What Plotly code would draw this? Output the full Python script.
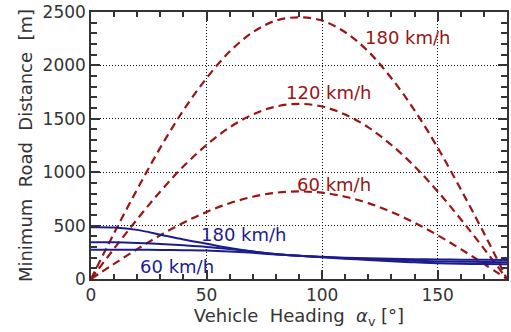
import plotly.graph_objects as go

# Vehicle heading samples (degrees)
heading = [0, 10, 20, 30, 40, 50, 60, 70, 80, 90,
           100, 110, 120, 130, 140, 150, 160, 170, 180]

# Dashed (red) family: distance vs heading for three speeds
red_180 = [0, 430, 840, 1230, 1580, 1880, 2130, 2310, 2420, 2450,
           2420, 2310, 2130, 1880, 1580, 1230, 840, 430, 0]
red_120 = [0, 285, 560, 820, 1055, 1255, 1420, 1540, 1615, 1640,
           1615, 1540, 1420, 1255, 1055, 820, 560, 285, 0]
red_60 = [0, 142, 280, 410, 527, 628, 710, 770, 808, 820,
          808, 770, 710, 628, 527, 410, 280, 142, 0]

# Solid (blue) family
blue_180 = [485, 482, 460, 415, 370, 330, 290, 258, 232, 218,
            208, 200, 195, 190, 186, 183, 181, 180, 178]
blue_120 = [345, 344, 338, 328, 315, 300, 280, 258, 235, 218,
            206, 195, 185, 177, 170, 165, 162, 160, 158]
blue_60 = [275, 275, 274, 272, 270, 267, 258, 245, 230, 217,
           203, 190, 178, 166, 156, 148, 143, 140, 138]

RED = "#9a1414"
BLUE = "#1c1c8e"
FONT = "DejaVu Sans"
TXT = "#333333"
AX = "#333333"

X_RANGE = [0, 180]
Y_RANGE = [0, 2500]

fig = go.Figure()

for ys in (red_180, red_120, red_60):
    fig.add_trace(go.Scatter(
        x=heading, y=ys, mode="lines", line_shape="spline",
        line=dict(color=RED, width=2.2, dash="8px,5px"),
        showlegend=False, hoverinfo="skip"))

for ys in (blue_180, blue_120, blue_60):
    fig.add_trace(go.Scatter(
        x=heading, y=ys, mode="lines", line_shape="spline",
        line=dict(color=BLUE, width=2),
        showlegend=False, hoverinfo="skip"))

# empty trace that carries the overlay axes used for the minor ticks
fig.add_trace(go.Scatter(x=[], y=[], xaxis="x2", yaxis="y2",
                         showlegend=False, hoverinfo="skip"))

labels = [
    (137, 2259, "180 km/h", RED),
    (103, 1750, "120 km/h", RED),
    (105, 889, "60 km/h", RED),
    (66, 417, "180 km/h", BLUE),
    (37, 120, "60 km/h", BLUE),
]
for x, y, t, c in labels:
    fig.add_annotation(x=x, y=y, text=t, showarrow=False,
                       font=dict(family=FONT, size=18, color=c))

axis_common = dict(
    showline=True, linecolor=AX, linewidth=1.5, mirror="allticks",
    ticks="inside", ticklen=9, tickcolor=AX, tickwidth=1.5,
    showgrid=True, gridcolor="#111111", griddash="1px,2px", gridwidth=1,
    zeroline=False, ticklabeloverflow="allow",
    tickfont=dict(family=FONT, size=17, color=TXT),
)

minor_common = dict(
    showline=False, showgrid=False, zeroline=False, showticklabels=False,
    ticks="inside", tickcolor=AX, tickwidth=1.5, mirror="allticks",
)

fig.update_layout(
    width=511, height=332,
    margin=dict(l=91, r=2, t=9, b=53),
    paper_bgcolor="white", plot_bgcolor="white",
    xaxis=dict(
        range=X_RANGE, tickvals=[0, 50, 100, 150],
        title=dict(text="Vehicle  Heading  <i>α</i><sub>v</sub> [°]",
                   font=dict(family=FONT, size=18, color=TXT), standoff=5),
        **axis_common),
    yaxis=dict(
        range=Y_RANGE, tickvals=[0, 500, 1000, 1500, 2000, 2500],
        title=dict(text="Minimum  Road  Distance  [m]",
                   font=dict(family=FONT, size=18, color=TXT), standoff=5),
        **axis_common),
    xaxis2=dict(overlaying="x", matches="x", range=X_RANGE,
                tick0=0, dtick=10, ticklen=5, **minor_common),
    yaxis2=dict(overlaying="y", matches="y", range=Y_RANGE,
                tick0=0, dtick=100, ticklen=6, **minor_common),
)

fig.write_html("out.html")
